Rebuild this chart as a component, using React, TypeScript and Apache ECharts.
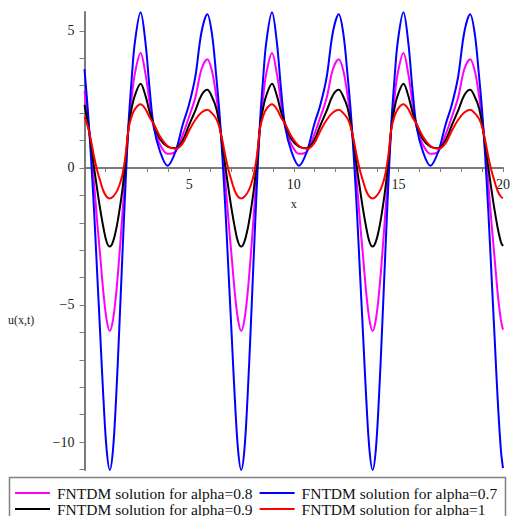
import React, { useEffect, useRef } from "react";
import * as echarts from "echarts";

// x positions of samples
const xs = [
  0, 0.16, 0.31, 0.46, 0.61, 0.76, 0.91, 1.06, 1.21, 1.36, 1.51, 1.66, 1.81, 1.96, 2.11, 2.26, 2.41, 2.68, 2.91, 3.11, 3.31, 3.61, 3.97,
  4.35, 4.69, 4.99, 5.29, 5.59, 5.87, 6.09, 6.29, 6.44, 6.59, 6.74, 6.89, 7.04, 7.19, 7.34, 7.49, 7.64, 7.79, 7.94, 8.09, 8.24, 8.39, 8.54, 8.69, 8.96, 9.19, 9.39, 9.59, 9.89, 10.25,
  10.63, 10.97, 11.27, 11.57, 11.87, 12.15, 12.37, 12.57, 12.72, 12.87, 13.02, 13.17, 13.32, 13.47, 13.62, 13.77, 13.92, 14.07, 14.22, 14.37, 14.52, 14.67, 14.82, 14.97, 15.24, 15.47, 15.67, 15.87, 16.17, 16.53,
  16.91, 17.25, 17.55, 17.85, 18.15, 18.43, 18.65, 18.85, 19.0, 19.15, 19.3, 19.45, 19.6, 19.75, 19.9, 20.0,
];

// alpha = 0.8 (magenta)
const alpha08 = [
  2.8, 1.8, 0.7, -0.6, -2.0, -3.3, -4.6, -5.55, -5.95, -5.55, -4.6, -3.25, -1.7, -0.1, 1.55, 2.6, 3.45, 4.19, 3.45, 2.4, 1.5, 0.85, 0.52,
  0.6, 1.2, 1.85, 2.55, 3.6, 3.97, 3.55, 2.65, 1.8, 0.7, -0.6, -2.0, -3.3, -4.6, -5.55, -5.95, -5.55, -4.6, -3.25, -1.7, -0.1, 1.55, 2.6, 3.45, 4.19, 3.45, 2.4, 1.5, 0.85, 0.52,
  0.6, 1.2, 1.85, 2.55, 3.6, 3.97, 3.55, 2.65, 1.8, 0.7, -0.6, -2.0, -3.3, -4.6, -5.55, -5.95, -5.55, -4.6, -3.25, -1.7, -0.1, 1.55, 2.6, 3.45, 4.19, 3.45, 2.4, 1.5, 0.85, 0.52,
  0.6, 1.2, 1.85, 2.55, 3.6, 3.97, 3.55, 2.65, 1.8, 0.7, -0.6, -2.0, -3.3, -4.6, -5.55, -5.9,
];

// alpha = 0.7 (blue)
const alpha07 = [
  3.6, 2.1, 0.4, -1.6, -3.9, -6.2, -8.5, -10.3, -11.02, -10.3, -8.4, -5.9, -3.2, -0.6, 1.7, 3.3, 4.6, 5.68, 4.6, 2.9, 1.5, 0.6, 0.08,
  0.6, 1.57, 2.3, 3.3, 4.95, 5.61, 4.9, 3.4, 2.1, 0.4, -1.6, -3.9, -6.2, -8.5, -10.3, -11.02, -10.3, -8.4, -5.9, -3.2, -0.6, 1.7, 3.3, 4.6, 5.68, 4.6, 2.9, 1.5, 0.6, 0.08,
  0.6, 1.57, 2.3, 3.3, 4.95, 5.61, 4.9, 3.4, 2.1, 0.4, -1.6, -3.9, -6.2, -8.5, -10.3, -11.02, -10.3, -8.4, -5.9, -3.2, -0.6, 1.7, 3.3, 4.6, 5.68, 4.6, 2.9, 1.5, 0.6, 0.08,
  0.6, 1.57, 2.3, 3.3, 4.95, 5.61, 4.9, 3.4, 2.1, 0.4, -1.6, -3.9, -6.2, -8.5, -10.3, -10.95,
];

// alpha = 0.9 (black)
const alpha09 = [
  2.3, 1.62, 0.88, 0.0, -0.8, -1.55, -2.2, -2.7, -2.87, -2.7, -2.25, -1.6, -0.8, 0.25, 1.5, 2.2, 2.65, 3.07, 2.65, 2.05, 1.6, 1.05, 0.78,
  0.72, 1.0, 1.55, 2.08, 2.65, 2.85, 2.6, 2.2, 1.62, 0.88, 0.0, -0.8, -1.55, -2.2, -2.7, -2.87, -2.7, -2.25, -1.6, -0.8, 0.25, 1.5, 2.2, 2.65, 3.07, 2.65, 2.05, 1.6, 1.05, 0.78,
  0.72, 1.0, 1.55, 2.08, 2.65, 2.85, 2.6, 2.2, 1.62, 0.88, 0.0, -0.8, -1.55, -2.2, -2.7, -2.87, -2.7, -2.25, -1.6, -0.8, 0.25, 1.5, 2.2, 2.65, 3.07, 2.65, 2.05, 1.6, 1.05, 0.78,
  0.72, 1.0, 1.55, 2.08, 2.65, 2.85, 2.6, 2.2, 1.62, 0.88, 0.0, -0.8, -1.55, -2.2, -2.7, -2.85,
];

// alpha = 1 (red)
const alpha1 = [
  1.87, 1.5, 1.0, 0.4, -0.1, -0.5, -0.85, -1.05, -1.11, -1.05, -0.9, -0.65, -0.25, 0.45, 1.45, 1.9, 2.15, 2.32, 2.15, 1.85, 1.6, 1.15, 0.8,
  0.7, 0.9, 1.35, 1.75, 2.02, 2.12, 2.0, 1.8, 1.5, 1.0, 0.4, -0.1, -0.5, -0.85, -1.05, -1.11, -1.05, -0.9, -0.65, -0.25, 0.45, 1.45, 1.9, 2.15, 2.32, 2.15, 1.85, 1.6, 1.15, 0.8,
  0.7, 0.9, 1.35, 1.75, 2.02, 2.12, 2.0, 1.8, 1.5, 1.0, 0.4, -0.1, -0.5, -0.85, -1.05, -1.11, -1.05, -0.9, -0.65, -0.25, 0.45, 1.45, 1.9, 2.15, 2.32, 2.15, 1.85, 1.6, 1.15, 0.8,
  0.7, 0.9, 1.35, 1.75, 2.02, 2.12, 2.0, 1.8, 1.5, 1.0, 0.4, -0.1, -0.5, -0.85, -1.05, -1.1,
];

const seriesNames = [
  "FNTDM solution for alpha=0.8",
  "FNTDM solution for alpha=0.7",
  "FNTDM solution for alpha=0.9",
  "FNTDM solution for alpha=1",
];
const seriesColors = ["#ff00ff", "#0000ff", "#000000", "#ff0000"];
const seriesValues = [alpha08, alpha07, alpha09, alpha1];

const xTickValues = [1, 2, 3, 4, 5, 6, 7, 8, 9, 10, 11, 12, 13, 14, 15, 16, 17, 18, 19, 20];
const xLabelValues = [5, 10, 15, 20];
const yTickValues = [-11, -10, -9, -8, -7, -6, -5, -4, -3, -2, -1, 0, 1, 2, 3, 4, 5];
const yLabelValues = [-10, -5, 0, 5];

const Y_MIN = -11.02;
const Y_MAX = 5.69;
const GRID_TOP = 12;
const GRID_BOTTOM = 46;
const CHART_H = 516;

const FONT = "'Liberation Serif', 'Times New Roman', serif";

export default function App() {
  const ref = useRef<HTMLDivElement>(null);
  useEffect(() => {
    const chart = echarts.init(ref.current!, null, { renderer: "svg" });
    const axisColor = "#7a7a7a";
    const plotH = CHART_H - GRID_TOP - GRID_BOTTOM;
    // distance from the bottom of the grid up to the value 0
    const zeroOffset = (-Y_MIN / (Y_MAX - Y_MIN)) * plotH;
    const legendCommon = {
      left: 15,
      padding: 0,
      itemGap: 7,
      itemWidth: 35,
      itemHeight: 2,
      icon: "rect",
      textStyle: { fontFamily: FONT, fontSize: 15.5, color: "#111", padding: [0, 0, 0, 2] },
    };
    chart.setOption({
      animation: false,
      backgroundColor: "#ffffff",
      grid: { left: 84.5, right: 6.5, top: GRID_TOP, bottom: GRID_BOTTOM, containLabel: false },
      xAxis: {
        type: "value",
        position: "bottom",
        offset: -zeroOffset,
        min: 0,
        max: 20,
        name: "x",
        nameLocation: "middle",
        nameGap: 30,
        nameTextStyle: { fontFamily: FONT, fontSize: 12, color: "#222" },
        axisLine: { onZero: false, lineStyle: { color: axisColor, width: 2 } },
        axisTick: { show: true, customValues: xTickValues, length: 4, lineStyle: { color: axisColor, width: 1 } },
        axisLabel: {
          customValues: xLabelValues,
          fontFamily: FONT,
          fontSize: 14,
          color: "#222",
          margin: 10,
        },
        splitLine: { show: false },
      },
      yAxis: {
        type: "value",
        min: Y_MIN,
        max: Y_MAX,
        axisLine: { show: true, onZero: false, lineStyle: { color: axisColor, width: 2 } },
        axisTick: { show: true, customValues: yTickValues, length: 5, lineStyle: { color: axisColor, width: 1 } },
        axisLabel: {
          customValues: yLabelValues,
          fontFamily: FONT,
          fontSize: 14,
          color: "#222",
          margin: 10,
          formatter: (v: number) => (v < 0 ? "\u2212" + Math.abs(v) : String(v)),
        },
        splitLine: { show: false },
      },
      legend: [
        { ...legendCommon, data: [seriesNames[0], seriesNames[1]], top: 485 },
        { ...legendCommon, data: [seriesNames[2], seriesNames[3]], top: 501 },
      ],
      graphic: [
        {
          type: "rect",
          shape: { x: 9.5, y: 477.5, width: 496, height: 45 },
          style: { fill: "none", stroke: "#808080", lineWidth: 1.5 },
          silent: true,
        },
        {
          type: "text",
          x: 8,
          y: 320,
          style: { text: "u(x,t)", font: "12px " + FONT, fill: "#222", textVerticalAlign: "middle" },
          silent: true,
        },
      ],
      series: seriesNames.map((name, i) => ({
        name,
        type: "line",
        data: xs.map((x, j) => [x, seriesValues[i][j]]),
        smooth: 0.35,
        symbol: "none",
        showSymbol: false,
        lineStyle: { color: seriesColors[i], width: 2 },
        itemStyle: { color: seriesColors[i] },
        z: 2 + i,
      })),
    });
    return () => chart.dispose();
  }, []);
  return <div ref={ref} style={{ position: "absolute", left: 0, top: 0, width: 513, height: 516 }} />;
}
